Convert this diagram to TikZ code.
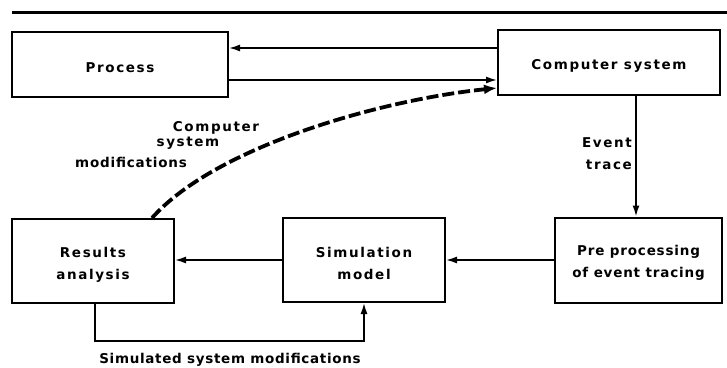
\documentclass[tikz,border=0pt]{standalone}
\usepackage{fontspec}
\newfontfamily\lettering{DejaVu Sans}[LetterSpace=12]
\usetikzlibrary{arrows.meta}
\begin{document}
\begin{tikzpicture}[x=1pt,y=-1pt,
  txt/.style={font=\lettering\bfseries\fontsize{13.5}{22}\selectfont, align=center, inner sep=0pt},
  narrow/.style={font=\lettering\bfseries\fontsize{13.5}{22}\selectfont\addfontfeature{LetterSpace=6}},
  box/.style={draw, line width=2pt, rectangle, inner sep=0pt},
  boxtext/.style={label={[txt, yshift=-3.5pt]center:{#1}}},
  conn/.style={line width=1.6pt},
  arr/.style={conn, -{Latex[length=11pt,width=7pt]}},
  dasharr/.style={line width=3.8pt, dash pattern=on 12pt off 4pt, -{Latex[length=13pt,width=10pt]}},
  rule/.style={line width=3pt}
]
\useasboundingbox (0,0) rectangle (727,367);
% top rule
\coordinate (r1) at (12,12);
\coordinate (r2) at (727,12);
\draw[rule] (r1) -- (r2);
% boxes
\node[box, minimum width=216pt, minimum height=65pt, boxtext={Process}] (proc) at (120,64.5) {};
\node[box, minimum width=222pt, minimum height=65pt, boxtext={Computer system}] (cs) at (609,62.5) {};
\node[box, minimum width=162pt, minimum height=84pt, boxtext={Results\\analysis}] (res) at (93,261) {};
\node[box, minimum width=162pt, minimum height=84pt, boxtext={Simulation\\model}] (sim) at (364,260) {};
\node[box, minimum width=167pt, minimum height=85pt, label={[txt, narrow, yshift=-3pt]center:{Pre processing\\of event tracing}}] (pre) at (638.5,260) {};
% connectors
\draw[arr] ([yshift=14.5pt]cs.west) -- ([yshift=14.5pt]cs.west -| proc.east);
\draw[arr] ([yshift=-15.5pt]proc.east) -- ([yshift=-15.5pt]proc.east -| cs.west);
\draw[dasharr] ([xshift=59pt]res.north) .. controls (215,147) and (380,100) .. ([yshift=-25.5pt]cs.west);
\draw[arr] ([xshift=27pt]cs.south) -- ([xshift=27pt]cs.south |- pre.north);
\draw[arr] (pre.west) -- (pre.west -| sim.east);
\draw[arr] (sim.west) -- (sim.west -| res.east);
\coordinate (fb) at (0,341);
\draw[arr] ([xshift=2pt]res.south) |- (sim.south |- fb) -- (sim.south);
% labels
\node[txt] (l1) at (216,128) {Computer};
\node[txt] (l2) at (188,143) {system};
\node[txt, narrow] (l3) at (131,162) {modifications};
\node[txt, align=right, anchor=east] (et) at (632,154) {Event\\trace};
\node[txt, font=\lettering\bfseries\fontsize{13.5}{22}\selectfont\addfontfeature{LetterSpace=5}] (sl) at (230,360) {Simulated system modifications};
\end{tikzpicture}
\end{document}
